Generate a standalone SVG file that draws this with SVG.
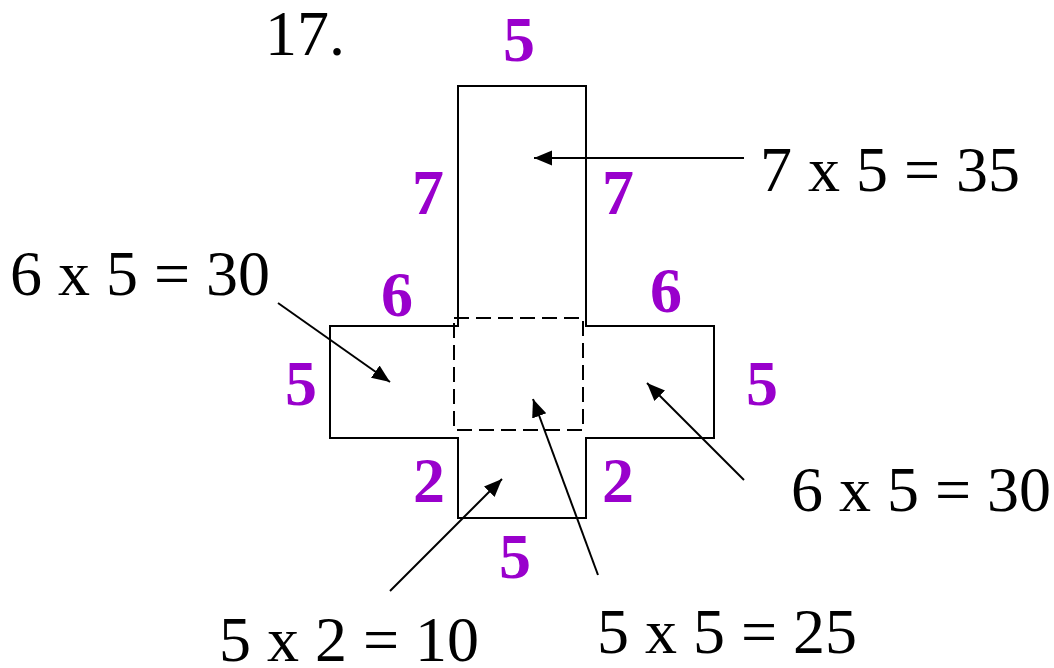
<svg xmlns="http://www.w3.org/2000/svg" width="1054" height="668" viewBox="0 0 1054 668">
<style>
.lbl{font-family:"Liberation Serif","Times New Roman",serif;font-size:64px;fill:#000}
.dim{font-family:"Liberation Serif","Times New Roman",serif;font-size:64px;font-weight:bold;fill:#9900cc;text-anchor:middle}
.outline{fill:none;stroke:#000;stroke-width:2}
.dash{fill:none;stroke:#000;stroke-width:2;stroke-dasharray:15 7}
.arr{stroke:#000;stroke-width:2;fill:none;marker-end:url(#ah)}
</style>
<defs>
<marker id="ah" markerUnits="userSpaceOnUse" markerWidth="20" markerHeight="16" refX="18" refY="7.5" orient="auto">
<path d="M0,0 L18,7.5 L0,15 Z" fill="#000"/>
</marker>
</defs>
<rect width="1054" height="668" fill="#fff"/>
<text class="lbl" x="265" y="55">17.</text>
<g id="net">
<path class="outline" d="M458,86 H586 V326 H714 V438 H586 V518 H458 V438 H330 V326 H458 Z"/>
<rect class="dash" x="454" y="318" width="129" height="112"/>
</g>
<g id="dims">
<text class="dim" x="519" y="61">5</text>
<text class="dim" x="428" y="214">7</text>
<text class="dim" x="618" y="214">7</text>
<text class="dim" x="397" y="316">6</text>
<text class="dim" x="666" y="312">6</text>
<text class="dim" x="301" y="405">5</text>
<text class="dim" x="762" y="405">5</text>
<text class="dim" x="429" y="502">2</text>
<text class="dim" x="618" y="502">2</text>
<text class="dim" x="515" y="578">5</text>
</g>
<g id="area-top"><text class="lbl" x="760" y="191">7 x 5 = 35</text></g>
<g id="area-left"><text class="lbl" x="10" y="295">6 x 5 = 30</text></g>
<g id="area-right"><text class="lbl" x="791" y="511">6 x 5 = 30</text></g>
<g id="area-bottom"><text class="lbl" x="219" y="661">5 x 2 = 10</text></g>
<g id="area-center"><text class="lbl" x="597" y="653">5 x 5 = 25</text></g>
<g id="connectors">
<line class="arr" x1="744" y1="158" x2="534" y2="158"/>
<line class="arr" x1="278" y1="303" x2="390" y2="382"/>
<line class="arr" x1="744" y1="480" x2="647" y2="383"/>
<line class="arr" x1="390" y1="591" x2="502" y2="479"/>
<line class="arr" x1="598" y1="575" x2="533" y2="399"/>
</g>
</svg>
